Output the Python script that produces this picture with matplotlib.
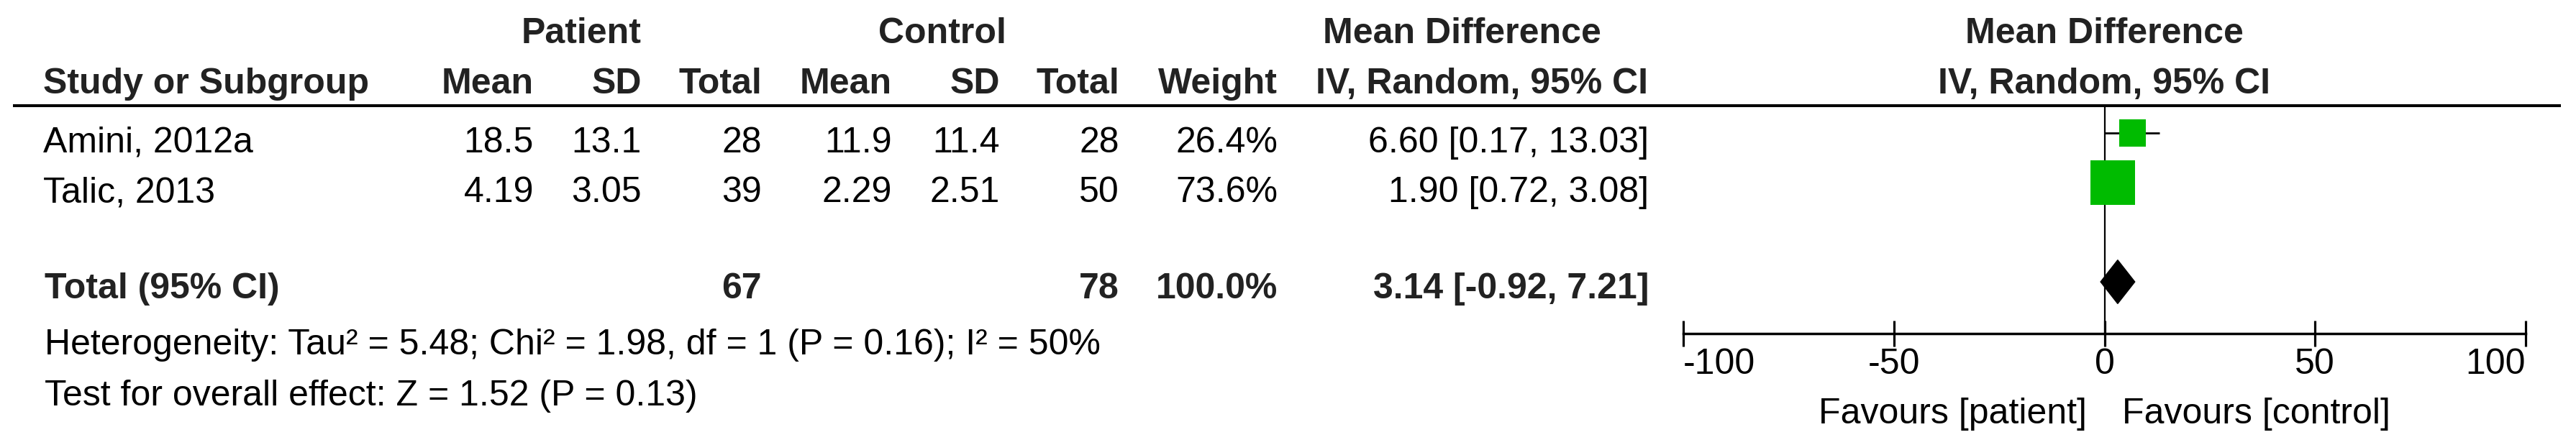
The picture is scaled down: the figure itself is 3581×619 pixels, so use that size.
import numpy as np
import matplotlib.pyplot as plt
from matplotlib.patches import Polygon
from matplotlib.transforms import blended_transform_factory

plt.rcParams['font.family'] = ['Liberation Sans', 'DejaVu Sans']
plt.rcParams['axes.unicode_minus'] = False

# data
studies = ['Amini, 2012a', 'Talic, 2013']
pat_mean = [18.5, 4.19]
pat_sd = [13.1, 3.05]
pat_n = [28, 39]
ctl_mean = [11.9, 2.29]
ctl_sd = [11.4, 2.51]
ctl_n = [28, 50]
weight = [26.4, 73.6]
md = [6.60, 1.90]
ci_lo = [0.17, 0.72]
ci_hi = [13.03, 3.08]

tot_pat, tot_ctl = 67, 78
tot_weight = 100.0
tot_md, tot_lo, tot_hi = 3.14, -0.92, 7.21

het_text = 'Heterogeneity: Tau\u00b2 = 5.48; Chi\u00b2 = 1.98, df = 1 (P = 0.16); I\u00b2 = 50%'
eff_text = 'Test for overall effect: Z = 1.52 (P = 0.13)'
xticks = [-100, -50, 0, 50, 100]
xtick_labels = ['-100', '-50', '0', '50', '100']

W, H = 3581, 619
FS = 36
HDR = '#222222'
GREEN = '#00bb00'

fig = plt.figure(figsize=(W / 100, H / 100), dpi=100)
bg = fig.add_axes([0, 0, 1, 1])
bg.set_xlim(0, W)
bg.set_ylim(H, 0)
bg.axis('off')


def t(x, y, s, ha='right', bold=False, color='black', **kw):
    bg.text(x, y, s, ha=ha, va='baseline', fontsize=FS,
            fontweight='bold' if bold else 'normal', color=color, **kw)


# table header
t(808, 60, 'Patient', 'center', True, HDR)
t(1310, 60, 'Control', 'center', True, HDR)
t(2032, 60, 'Mean Difference', 'center', True, HDR)
t(60, 130, 'Study or Subgroup', 'left', True, HDR)
for x, s in zip([742, 892, 1059, 1240, 1390, 1556, 1776],
                ['Mean', 'SD', 'Total', 'Mean', 'SD', 'Total', 'Weight']):
    t(x, 130, s, 'right', True, HDR)
t(2060, 130, 'IV, Random, 95% CI', 'center', True, HDR)
bg.plot([18, 3560], [147, 147], color='black', lw=2.9, solid_capstyle='butt')

# study rows
row_base = [212, 281]
for i, yb in enumerate(row_base):
    t(60, yb, studies[i], 'left')
    t(742, yb, str(pat_mean[i]))
    t(892, yb, str(pat_sd[i]))
    t(1059, yb, str(pat_n[i]))
    t(1240, yb, str(ctl_mean[i]))
    t(1390, yb, str(ctl_sd[i]))
    t(1556, yb, str(ctl_n[i]))
    t(1776, yb, f'{weight[i]:.1f}%')
    t(2292, yb, f'{md[i]:.2f} [{ci_lo[i]:.2f}, {ci_hi[i]:.2f}]')

# total row
t(62, 415, 'Total (95% CI)', 'left', True, HDR)
t(1059, 415, str(tot_pat), 'right', True, HDR)
t(1556, 415, str(tot_ctl), 'right', True, HDR)
t(1776, 415, f'{tot_weight:.1f}%', 'right', True, HDR)
t(2292, 415, f'{tot_md:.2f} [{tot_lo:.2f}, {tot_hi:.2f}]', 'right', True, HDR)
t(62, 493, het_text, 'left')
t(62, 564, eff_text, 'left')

# forest plot
fx = fig.add_axes([2340 / W, 1 - 464 / H, (3511 - 2340) / W, (464 - 147) / H])
fx.patch.set_alpha(0)
fx.set_xlim(-100, 100)
fx.set_ylim(4.043, -0.551)
for side in ['top', 'right', 'left']:
    fx.spines[side].set_visible(False)
fx.spines['bottom'].set_linewidth(2.5)
fx.set_yticks([])
fx.set_xticks(xticks, labels=xtick_labels)
fx.tick_params(axis='x', direction='inout', length=26.6, width=2.3, pad=1,
               labelsize=FS, color='black')
lbls = fx.xaxis.get_majorticklabels()
lbls[0].set_ha('left')
lbls[-1].set_ha('right')

fx.axvline(0, color='black', lw=1.6, zorder=1)

row_y = [0, 1]
fx.hlines(row_y, ci_lo, ci_hi, color='black', lw=2, zorder=2)
fx.scatter(md, row_y, s=np.array(weight) * 27, marker='s', color=GREEN,
           linewidths=0, zorder=3)

tot_y = 3
dia = Polygon([[tot_lo, tot_y], [tot_md, tot_y - 0.44], [tot_hi, tot_y],
               [tot_md, tot_y + 0.44]], closed=True, color='black', zorder=3)
fx.add_patch(dia)

trans = blended_transform_factory(fx.transData, bg.transData)
bg.text(0, 60, 'Mean Difference', transform=trans, ha='center', va='baseline',
        fontsize=FS, fontweight='bold', color=HDR)
bg.text(0, 130, 'IV, Random, 95% CI', transform=trans, ha='center', va='baseline',
        fontsize=FS, fontweight='bold', color=HDR)
bg.annotate('Favours [patient]', xy=(0, 589), xycoords=trans, xytext=(-18, 0),
            textcoords='offset points', ha='right', va='baseline', fontsize=FS)
bg.annotate('Favours [control]', xy=(0, 589), xycoords=trans, xytext=(18, 0),
            textcoords='offset points', ha='left', va='baseline', fontsize=FS)

fig.savefig('out.png', dpi=100)
